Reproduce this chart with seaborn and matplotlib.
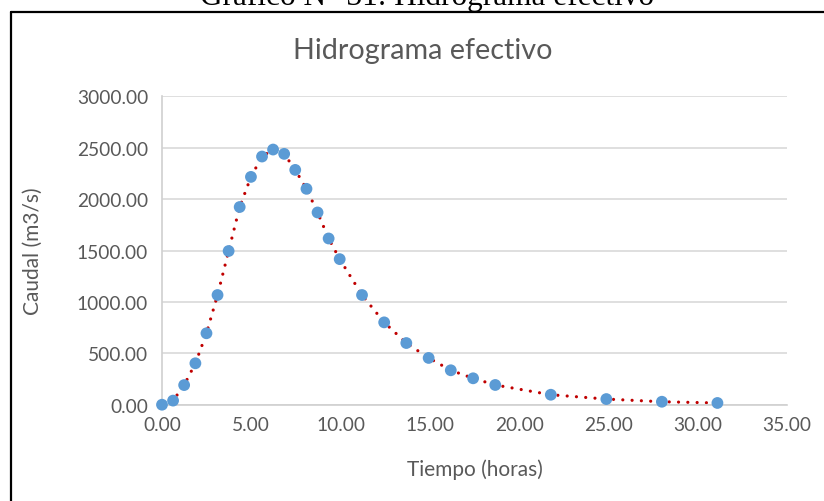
import numpy as np
import pandas as pd
import matplotlib
matplotlib.use("Agg")
import matplotlib.pyplot as plt
import seaborn as sns
from matplotlib.lines import Line2D

# values
tiempo = [0.00, 0.62, 1.24, 1.87, 2.49, 3.11, 3.73, 4.35, 4.98, 5.60, 6.22,
          6.84, 7.46, 8.09, 8.71, 9.33, 9.95, 11.20, 12.44, 13.68, 14.93,
          16.17, 17.42, 18.66, 21.77, 24.88, 27.99, 31.10]
caudal = [0, 40, 191, 403, 695, 1067, 1495, 1923, 2216, 2414, 2482,
          2440, 2284, 2100, 1870, 1617, 1416, 1067, 801, 600, 455,
          335, 257, 192, 97, 55, 29, 17]

x_ticks = [0, 5, 10, 15, 20, 25, 30, 35]
y_ticks = [0, 500, 1000, 1500, 2000, 2500, 3000]

df = pd.DataFrame({"Tiempo": tiempo, "Caudal": caudal})

sns.set_style("white")
plt.rcParams['font.family'] = ['Lato', 'DejaVu Sans']

grey = "#595959"
fig = plt.figure(figsize=(8.24, 5.02), dpi=100)
ax = fig.add_axes([0.1966, 0.1918, 0.7586, 0.6144])

sns.lineplot(data=df, x="Tiempo", y="Caudal", ax=ax, color="#C00000",
             linewidth=2.3, linestyle=(0, (0.01, 2.9)), dash_capstyle="round",
             zorder=2, sort=False)
sns.scatterplot(data=df, x="Tiempo", y="Caudal", ax=ax, color="#5B9BD5",
                s=72, edgecolor="none", zorder=3, clip_on=False)

ax.set_xlim(0, 35)
ax.set_ylim(0, 3000)
ax.set_xticks(x_ticks)
ax.set_yticks(y_ticks)
ax.set_xticklabels([f"{v:.2f}" for v in x_ticks])
ax.set_yticklabels([f"{v:.2f}" for v in y_ticks])
ax.tick_params(axis="both", length=0, labelsize=13.8, colors=grey)
ax.tick_params(axis="y", pad=10)
ax.tick_params(axis="x", pad=8)
ax.yaxis.grid(True, color="#D9D9D9", linewidth=1.2)
ax.xaxis.grid(False)
ax.set_axisbelow(True)
for s in ["top", "right"]:
    ax.spines[s].set_visible(False)
ax.spines["left"].set_color("#D0D0D0")
ax.spines["bottom"].set_color("#D0D0D0")
ax.spines["left"].set_linewidth(1.2)
ax.spines["bottom"].set_linewidth(1.2)

ax.set_xlabel("Tiempo (horas)", fontsize=15, color=grey)
ax.set_ylabel("Caudal (m3/s)", fontsize=15, color=grey)
ax.xaxis.set_label_coords(0.5, -0.173)
ax.yaxis.set_label_coords(-0.19, 0.5)

fig.text(0.513, 0.899, "Hidrograma efectivo", ha="center", va="center",
         fontsize=20.7, color=grey)

# caption cut by the top edge, as in the reference, and frame around the chart
fig.text(0.5176, 1 - 4.5 / 502, "Gráfico N° 31: Hidrograma efectivo",
         ha="center", va="baseline", fontsize=22.5, color="black",
         family=["Liberation Serif", "DejaVu Serif"])
fig.add_artist(Line2D([10.5 / 824, 10.5 / 824], [0, 1 - 12.7 / 502],
                      transform=fig.transFigure, color="black", linewidth=1.6))
fig.add_artist(Line2D([10.5 / 824, 1], [1 - 12.7 / 502, 1 - 12.7 / 502],
                      transform=fig.transFigure, color="black", linewidth=1.6))

fig.savefig("out.png", dpi=100)
